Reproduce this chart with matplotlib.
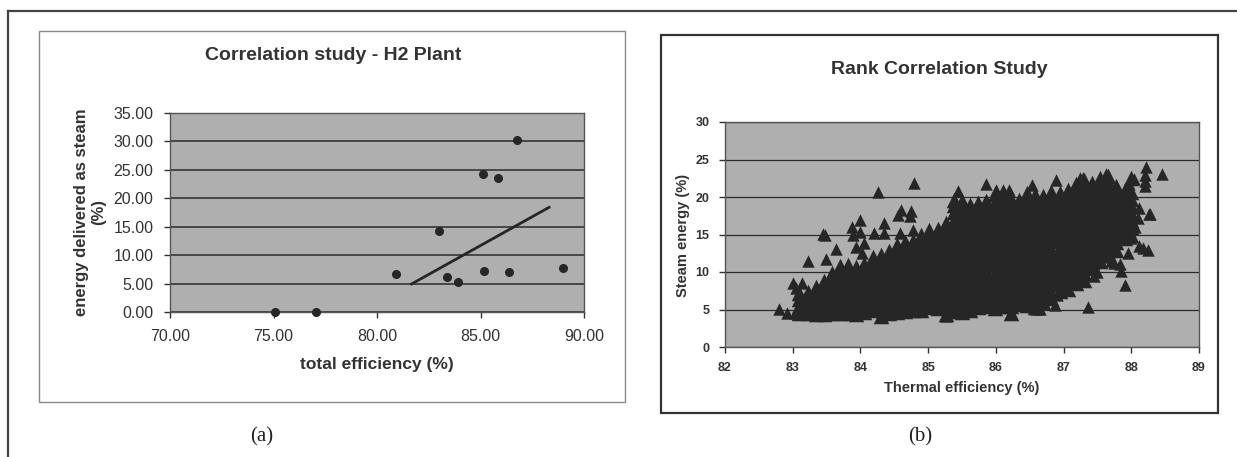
import numpy as np
from matplotlib import pyplot as plt
from matplotlib.lines import Line2D
from matplotlib.patches import Rectangle

plt.rcParams['font.family'] = ['Liberation Sans', 'DejaVu Sans']

# (a) H2 plant points
h2_eff = [75.07, 77.04, 80.92, 83.0, 83.37, 83.93, 85.14, 85.18, 85.86, 86.39, 86.78, 88.97]
h2_steam = [0.0, 0.0, 6.6, 14.3, 6.1, 5.2, 24.2, 7.2, 23.6, 7.1, 30.3, 7.8]
trend_x = [81.67, 88.31]
trend_y = [4.93, 18.4]

# (b) rank correlation cloud, read column by column
cloud_x = [83.10, 83.22, 83.34, 83.46, 83.58, 83.70, 83.82, 83.94, 84.06, 84.18,
           84.30, 84.42, 84.54, 84.66, 84.78, 84.90, 85.02, 85.14, 85.26, 85.38,
           85.50, 85.62, 85.74, 85.86, 85.98, 86.10, 86.22, 86.34, 86.46, 86.58,
           86.70, 86.82, 86.94, 87.06, 87.18, 87.30, 87.42, 87.54, 87.66, 87.78,
           87.90, 88.00]
cloud_y = [
    [4.6, 5.5, 6.4, 7.2],
    [4.5, 5.4, 6.3, 7.4],
    [4.4, 5.3, 6.2, 7.1, 8.0],
    [4.4, 5.2, 6.1, 7.0, 7.9, 8.8],
    [4.5, 5.4, 6.3, 7.2, 8.1, 9.0, 9.9],
    [4.6, 5.5, 6.4, 7.4, 8.3, 9.2, 10.1, 10.8],
    [4.5, 5.4, 6.3, 7.2, 8.2, 9.1, 10.0, 10.9],
    [4.4, 5.3, 6.2, 7.1, 8.0, 8.9, 9.8, 10.7],
    [4.7, 5.6, 6.5, 7.5, 8.4, 9.3, 10.2, 11.1],
    [4.9, 5.8, 6.7, 7.6, 8.6, 9.5, 10.4, 11.3, 12.0],
    [4.2, 5.1, 6.0, 6.9, 7.9, 8.8, 9.7, 10.6, 11.5, 12.3],
    [4.5, 5.4, 6.3, 7.2, 8.1, 9.0, 10.0, 10.9, 11.8, 12.8],
    [4.7, 5.6, 6.6, 7.5, 8.4, 9.3, 10.2, 11.2, 12.1, 13.0, 13.6],
    [4.8, 5.7, 6.6, 7.6, 8.5, 9.4, 10.3, 11.3, 12.2, 13.1, 14.0],
    [4.9, 5.8, 6.8, 7.7, 8.6, 9.6, 10.5, 11.4, 12.3, 13.3, 14.2],
    [5.0, 5.9, 6.9, 7.8, 8.7, 9.7, 10.6, 11.5, 12.5, 13.4, 14.3, 15.0],
    [5.4, 6.3, 7.3, 8.2, 9.1, 10.1, 11.0, 11.9, 12.9, 13.8, 14.7, 15.6],
    [5.2, 6.1, 7.1, 8.0, 8.9, 9.9, 10.8, 11.7, 12.7, 13.6, 14.5, 15.4, 15.8],
    [4.4, 5.3, 6.3, 7.2, 8.2, 9.1, 10.0, 11.0, 11.9, 12.8, 13.8, 14.7, 15.6, 16.5],
    [4.8, 5.7, 6.7, 7.6, 8.6, 9.5, 10.5, 11.4, 12.3, 13.3, 14.2, 15.2, 16.1, 17.0, 18.0, 18.9, 19.6],
    [4.7, 5.6, 6.6, 7.5, 8.5, 9.4, 10.4, 11.3, 12.3, 13.2, 14.1, 15.1, 16.0, 17.0, 17.9, 18.8, 19.5],
    [4.9, 5.8, 6.8, 7.7, 8.7, 9.6, 10.6, 11.5, 12.4, 13.4, 14.3, 15.3, 16.2, 17.2, 18.1, 19.0],
    [5.3, 6.2, 7.2, 8.1, 9.1, 10.0, 10.9, 11.9, 12.8, 13.8, 14.7, 15.6, 16.6, 17.5, 18.4, 19.2],
    [5.5, 6.4, 7.4, 8.3, 9.3, 10.2, 11.2, 12.1, 13.0, 14.0, 14.9, 15.9, 16.8, 17.7, 18.7, 19.5],
    [5.2, 6.1, 7.1, 8.0, 9.0, 9.9, 10.9, 11.8, 12.8, 13.7, 14.6, 15.6, 16.5, 17.5, 18.4, 19.4, 20.4],
    [5.5, 6.4, 7.4, 8.3, 9.3, 10.2, 11.2, 12.1, 13.1, 14.0, 15.0, 15.9, 16.9, 17.8, 18.8, 19.7, 20.6],
    [4.6, 5.5, 6.5, 7.4, 8.4, 9.3, 10.3, 11.2, 12.2, 13.1, 14.1, 15.0, 16.0, 16.9, 17.9, 18.8, 19.8],
    [5.8, 6.7, 7.7, 8.6, 9.6, 10.5, 11.5, 12.4, 13.4, 14.3, 15.3, 16.2, 17.2, 18.1, 19.1, 19.6],
    [5.6, 6.5, 7.5, 8.4, 9.4, 10.3, 11.3, 12.2, 13.2, 14.1, 15.1, 16.0, 17.0, 17.9, 18.9, 19.8, 20.5],
    [5.3, 6.2, 7.2, 8.1, 9.1, 10.0, 11.0, 11.9, 12.9, 13.8, 14.8, 15.7, 16.7, 17.6, 18.6, 19.5, 20.3],
    [6.0, 6.9, 7.9, 8.8, 9.8, 10.7, 11.7, 12.6, 13.6, 14.5, 15.5, 16.4, 17.4, 18.3, 19.3, 20.2],
    [6.5, 7.4, 8.4, 9.3, 10.3, 11.2, 12.2, 13.1, 14.1, 15.0, 16.0, 16.9, 17.9, 18.8, 19.8, 20.7],
    [7.5, 8.4, 9.4, 10.3, 11.3, 12.2, 13.2, 14.1, 15.1, 16.0, 17.0, 17.9, 18.9, 19.8, 20.5],
    [7.8, 8.7, 9.7, 10.6, 11.6, 12.5, 13.5, 14.4, 15.4, 16.3, 17.3, 18.2, 19.2, 20.1, 21.0],
    [8.5, 9.4, 10.4, 11.3, 12.3, 13.2, 14.2, 15.1, 16.1, 17.0, 18.0, 18.9, 19.9, 20.8, 21.8],
    [9.0, 9.9, 10.9, 11.8, 12.8, 13.7, 14.7, 15.6, 16.6, 17.5, 18.5, 19.4, 20.4, 21.3, 22.3],
    [10.5, 11.4, 12.4, 13.3, 14.3, 15.2, 16.2, 17.1, 18.1, 19.0, 20.0, 20.9, 21.9],
    [11.5, 12.4, 13.4, 14.3, 15.3, 16.2, 17.2, 18.1, 19.1, 20.0, 21.0, 21.9, 22.5],
    [12.5, 13.4, 14.4, 15.3, 16.3, 17.2, 18.2, 19.1, 20.1, 21.0, 22.0, 22.8],
    [13.0, 14.0, 14.9, 15.9, 16.8, 17.8, 18.7, 19.7, 20.6, 21.5],
    [14.5, 15.5, 16.4, 17.4, 18.3, 19.3, 20.2, 21.0],
    [15.0, 16.0, 16.9, 17.9, 18.8, 19.8, 20.7, 22.5],
]
stray_x = [82.80, 82.91, 83.03, 83.00, 83.13, 83.05, 83.23, 83.44, 83.47, 83.49,
           83.64, 83.87, 83.89, 83.99, 84.00, 84.06, 83.94, 84.26, 84.20, 84.35,
           84.35, 84.55, 84.60, 84.75, 84.73, 84.58, 84.78, 84.79, 84.02,
           88.46, 88.21, 88.20, 88.20, 88.20, 88.00, 88.04, 87.97, 88.12, 88.10,
           88.26, 88.28, 88.12, 88.25, 88.18, 87.90, 87.85, 87.83, 87.36, 87.63,
           87.24, 87.29, 86.89, 86.53, 85.86, 85.44, 86.00, 86.10, 86.20, 86.23,
           86.43, 86.60, 86.65, 86.87, 85.27, 87.70, 87.60, 87.75, 87.50, 87.45,
           87.95, 88.00, 88.05, 86.75, 86.90]
stray_y = [5.1, 4.5, 4.5, 8.6, 8.6, 7.9, 11.5, 15.1, 15.0, 11.8,
           13.1, 16.0, 14.9, 16.9, 15.3, 13.9, 13.4, 20.7, 15.2, 15.2,
           16.5, 17.6, 18.3, 18.2, 17.5, 15.2, 15.6, 21.9, 12.6,
           23.1, 24.0, 23.0, 22.2, 21.5, 22.4, 22.4, 21.7, 18.6, 17.2,
           17.7, 17.7, 13.5, 13.0, 13.2, 8.3, 10.1, 11.1, 5.4, 23.1,
           22.6, 22.5, 22.3, 21.6, 21.7, 20.8, 20.9, 20.9, 20.9, 4.55,
           5.6, 5.1, 5.1, 5.6, 4.2, 11.5, 12.0, 11.2, 10.0, 9.5,
           12.5, 14.5, 16.0, 6.5, 7.0]

fig = plt.figure(figsize=(12.37, 4.57), dpi=100)
W, H = 1237.0, 457.0


def box(x0, y0, x1, y1):
    return [x0 / W, 1 - y1 / H, (x1 - x0) / W, (y1 - y0) / H]


# outer page frame
fig.add_artist(Line2D([8 / W, 1], [1 - 11 / H, 1 - 11 / H], color='#444444', lw=1.6))
fig.add_artist(Line2D([8 / W, 8 / W], [0, 1 - 11 / H], color='#444444', lw=1.6))

# chart frames
b = box(39, 31, 625, 402)
fig.add_artist(Rectangle((b[0], b[1]), b[2], b[3], transform=fig.transFigure,
                         fill=False, ec='#8a8a8a', lw=1.0))
b = box(661, 35, 1218, 413)
fig.add_artist(Rectangle((b[0], b[1]), b[2], b[3], transform=fig.transFigure,
                         fill=False, ec='#333333', lw=1.6))

bg = '#afafaf'
dark = '#262626'

# ---- (a)
ax1 = fig.add_axes(box(170, 113, 584, 312))
ax1.set_facecolor(bg)
ax1.set_xlim(70, 90)
ax1.set_ylim(0, 35)
ax1.set_xticks(np.arange(70, 91, 5))
ax1.set_yticks(np.arange(0, 36, 5))
ax1.set_xticklabels([f'{v:.2f}' for v in np.arange(70, 91, 5)])
ax1.set_yticklabels([f'{v:.2f}' for v in np.arange(0, 36, 5)])
ax1.tick_params(labelsize=11.5, colors='#333333', length=4, width=1, pad=8)
ax1.grid(axis='y', color='#2a2a2a', lw=1.1)
ax1.set_axisbelow(True)
for s in ax1.spines.values():
    s.set_color('#555555')
    s.set_linewidth(1.0)
ax1.plot(trend_x, trend_y, color=dark, lw=2.0, zorder=3)
ax1.plot(h2_eff, h2_steam, 'o', color=dark, ms=5.5, clip_on=False, zorder=4)
fig.text(333 / W, 1 - 55 / H, 'Correlation study - H2 Plant', ha='center', va='center',
         fontsize=14, fontweight='bold', color='#333333')
fig.text(90 / W, 1 - 212 / H, 'energy delivered as steam\n(%)', ha='center', va='center',
         rotation=90, fontsize=12, fontweight='bold', color='#333333', linespacing=1.15)
fig.text(377 / W, 1 - 365 / H, 'total efficiency (%)', ha='center', va='center',
         fontsize=12.5, fontweight='bold', color='#333333')

# ---- (b)
ax2 = fig.add_axes(box(725, 122, 1199, 347))
ax2.set_facecolor(bg)
ax2.set_xlim(82, 89)
ax2.set_ylim(0, 30)
ax2.set_xticks(np.arange(82, 90, 1))
ax2.set_yticks(np.arange(0, 31, 5))
ax2.tick_params(labelsize=9, colors='#333333', length=4, width=1, pad=7)
for lab in ax2.get_xticklabels() + ax2.get_yticklabels():
    lab.set_fontweight('bold')
ax2.grid(axis='y', color='#2a2a2a', lw=0.9)
ax2.set_axisbelow(True)
for s in ax2.spines.values():
    s.set_color('#555555')
    s.set_linewidth(1.0)
px = []
py = []
for x, ys in zip(cloud_x, cloud_y):
    px += [x] * len(ys)
    py += ys
ax2.scatter(px, py, marker='^', s=125, color=dark, lw=0, zorder=3)
ax2.scatter(stray_x, stray_y, marker='^', s=80, color=dark, lw=0, zorder=3)
fig.text(939 / W, 1 - 69 / H, 'Rank Correlation Study', ha='center', va='center',
         fontsize=14, fontweight='bold', color='#333333')
fig.text(683 / W, 1 - 235 / H, 'Steam energy (%)', ha='center', va='center',
         rotation=90, fontsize=10.5, fontweight='bold', color='#333333')
fig.text(962 / W, 1 - 388 / H, 'Thermal efficiency (%)', ha='center', va='center',
         fontsize=10.5, fontweight='bold', color='#333333')

# panel letters
fig.text(262 / W, 1 - 437 / H, '(a)', ha='center', va='center', fontsize=15,
         family=['Liberation Serif', 'DejaVu Serif'], color='#222222')
fig.text(920 / W, 1 - 437 / H, '(b)', ha='center', va='center', fontsize=15,
         family=['Liberation Serif', 'DejaVu Serif'], color='#222222')

fig.savefig('out.png', dpi=100, facecolor='white')
